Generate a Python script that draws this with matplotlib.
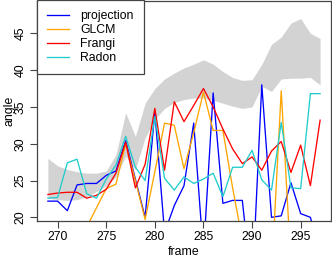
import numpy as np
import matplotlib

matplotlib.use("Agg")
import matplotlib.pyplot as plt


# Frames on the x axis
frames = list(range(269, 298))

# Grey band (lower / upper edge)
band_upper = [28.0, 27.0, 26.5, 26.2, 26.0, 26.0, 26.3, 28.5, 34.2, 31.0,
              35.5, 37.5, 38.8, 39.6, 40.3, 40.8, 41.4, 40.8, 39.8, 39.0,
              38.6, 38.7, 40.8, 43.5, 44.5, 46.4, 47.0, 45.0, 44.3]
band_lower = [22.6, 22.4, 22.3, 22.4, 22.8, 23.5, 24.3, 25.5, 28.3, 26.5,
              30.8, 33.3, 34.8, 35.6, 36.0, 36.2, 36.2, 35.9, 35.5, 35.1,
              34.8, 35.0, 37.8, 37.1, 38.8, 38.9, 38.9, 39.0, 38.0]

# Angle estimates per method
projection = [22.2, 22.2, 20.9, 24.4, 24.6, 24.6, 25.7, 26.3, 30.4, 25.2,
              20.0, 34.3, 17.9, 21.6, 24.3, 32.8, 15.0, 36.9, 21.9, 22.3,
              22.3, 10.0, 38.0, 20.0, 20.2, 24.7, 20.5, 20.0, 15.0]
glcm = [12.0, 14.0, 15.5, 17.0, 18.7, 21.3, 23.9, 24.5, 30.0, 25.0,
        19.7, 26.2, 32.8, 32.5, 26.6, 31.5, 37.0, 31.8, 31.8, 24.0,
        17.0, 10.0, 9.0, 12.0, 37.2, 13.6, 10.0, 9.0, 8.0]
frangi = [23.1, 23.3, 23.4, 23.4, 22.6, 23.0, 23.8, 26.0, 30.2, 24.0,
          27.2, 34.8, 26.4, 35.7, 33.0, 35.2, 37.5, 35.0, 32.0, 29.3,
          27.3, 28.2, 26.4, 29.0, 30.3, 26.1, 29.8, 24.3, 33.2]
radon = [22.6, 22.7, 27.4, 27.9, 23.2, 22.6, 25.2, 27.1, 31.0, 26.8,
         25.0, 33.7, 25.3, 23.7, 25.5, 24.6, 25.2, 26.0, 22.8, 26.8,
         26.8, 29.1, 25.1, 23.7, 32.9, 24.0, 23.9, 36.8, 36.8]

series = [
    ("projection", projection, "#0000FF"),
    ("GLCM", glcm, "#FFA500"),
    ("Frangi", frangi, "#FF0000"),
    ("Radon", radon, "#22CCCC"),
]

plt.rcParams["font.family"] = ["Liberation Sans", "DejaVu Sans"]
fs = 8.8
W, H = 332, 259

fig = plt.figure(figsize=(W / 100, H / 100), dpi=100)
ax = fig.add_axes([37 / W, (H - 221) / H, (331 - 37) / W, 220 / H])

ax.fill_between(frames, band_lower, band_upper, color="#D3D3D3", lw=0)
for name, vals, col in series:
    ax.plot(frames, vals, color=col, lw=0.95, label=name)

ax.set_xlim(267.88, 298.12)
ax.set_ylim(19.5, 49.39)
ax.set_xticks([270, 275, 280, 285, 290, 295])
ax.set_yticks([20, 25, 30, 35, 40, 45])
ax.tick_params(axis="both", direction="out", length=5, width=0.8,
               color="#444444", labelsize=fs, pad=2.5)
for lbl in ax.get_yticklabels():
    lbl.set_rotation(90)
    lbl.set_va("center")
for sp in ax.spines.values():
    sp.set_color("#444444")
    sp.set_linewidth(0.9)

fig.text(184 / W, 1 - 252 / H, "frame", ha="center", va="center", fontsize=fs)
fig.text(9 / W, 1 - 111 / H, "angle", ha="center", va="center",
         rotation=90, fontsize=fs)

# Legend in the top left corner, square box like R
leg = ax.legend(loc="upper left", bbox_to_anchor=(0, 1.005), borderaxespad=0,
                fontsize=fs, fancybox=False, framealpha=1, edgecolor="#444444",
                handlelength=1.8, handletextpad=0.9, borderpad=0.85,
                labelspacing=0.15)
leg.get_frame().set_linewidth(0.9)

fig.savefig("out.png", dpi=100)
